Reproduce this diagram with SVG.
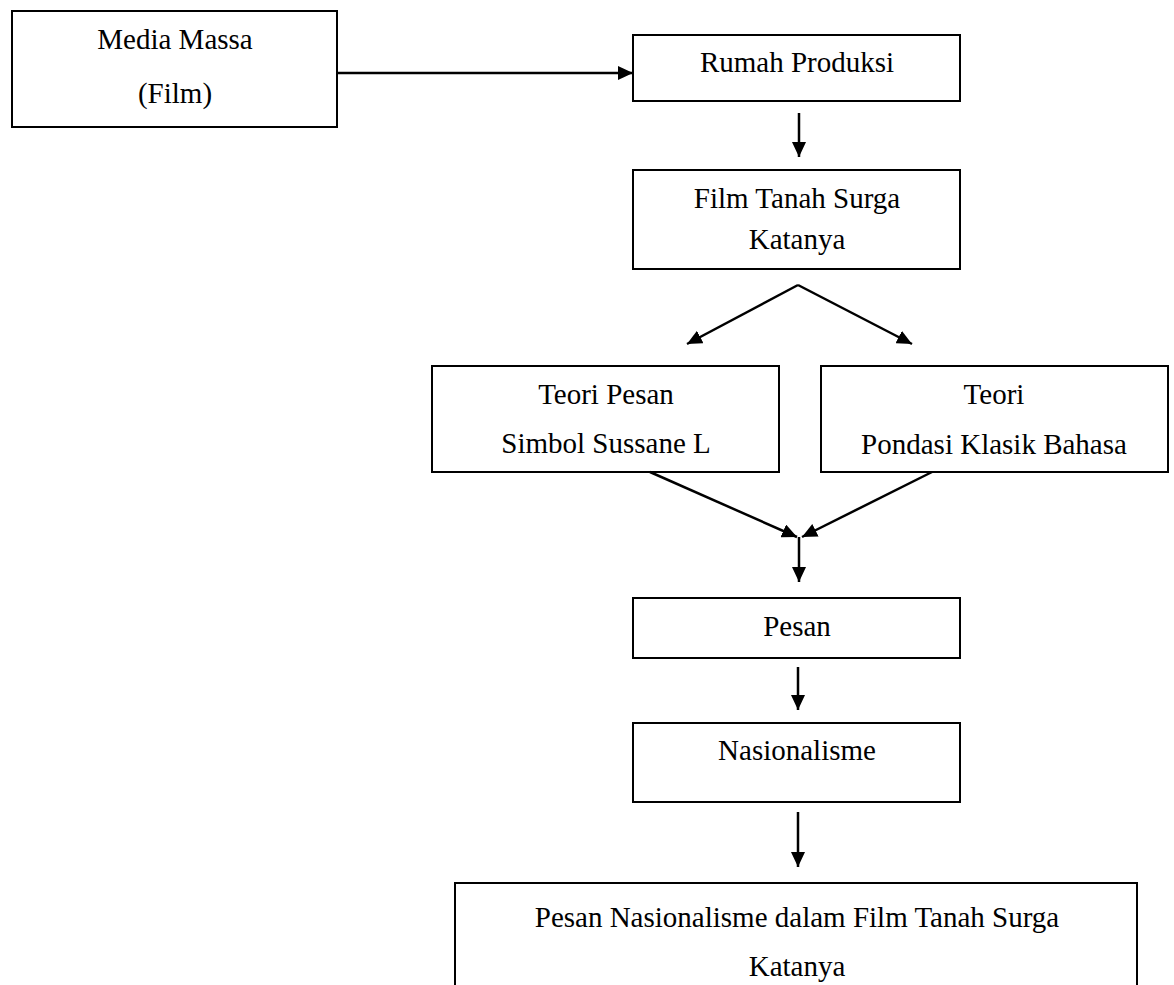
<svg xmlns="http://www.w3.org/2000/svg" width="1174" height="985" viewBox="0 0 1174 985">
<style>
.box{fill:#fff;stroke:#000;stroke-width:2}
.lbl{font-family:"Liberation Serif","Times New Roman",serif;font-size:29px;fill:#000;text-anchor:middle}
.conn line{stroke:#000;stroke-width:2.5;marker-end:url(#ah)}
</style>
<defs>
<marker id="ah" viewBox="0 0 15 14" refX="15" refY="7" markerWidth="15" markerHeight="14" markerUnits="userSpaceOnUse" orient="auto">
<path d="M0,0 L15,7 L0,14 z" fill="#000"/>
</marker>
</defs>
<rect width="1174" height="985" fill="#fff"/>
<g id="media-massa">
<rect class="box" x="12" y="11" width="325" height="116"/>
<text class="lbl" x="175" y="49">Media Massa</text>
<text class="lbl" x="175" y="103">(Film)</text>
</g>
<g id="rumah-produksi">
<rect class="box" x="633" y="35" width="327" height="66"/>
<text class="lbl" x="797" y="72">Rumah Produksi</text>
</g>
<g id="film">
<rect class="box" x="633" y="170" width="327" height="99"/>
<text class="lbl" x="797" y="208">Film Tanah Surga</text>
<text class="lbl" x="797" y="249">Katanya</text>
</g>
<g id="teori-pesan">
<rect class="box" x="432" y="366" width="347" height="106"/>
<text class="lbl" x="606" y="404">Teori Pesan</text>
<text class="lbl" x="606" y="453">Simbol Sussane L</text>
</g>
<g id="teori-pondasi">
<rect class="box" x="821" y="366" width="347" height="106"/>
<text class="lbl" x="994" y="404">Teori</text>
<text class="lbl" x="994" y="454">Pondasi Klasik Bahasa</text>
</g>
<g id="pesan">
<rect class="box" x="633" y="598" width="327" height="60"/>
<text class="lbl" x="797" y="636">Pesan</text>
</g>
<g id="nasionalisme">
<rect class="box" x="633" y="723" width="327" height="79"/>
<text class="lbl" x="797" y="760">Nasionalisme</text>
</g>
<g id="hasil">
<rect class="box" x="455" y="883" width="682" height="120"/>
<text class="lbl" x="797" y="927">Pesan Nasionalisme dalam Film Tanah Surga</text>
<text class="lbl" x="797" y="976">Katanya</text>
</g>
<g id="connectors" class="conn">
<line x1="337" y1="73" x2="633" y2="73"/>
<line x1="799" y1="113" x2="799" y2="157"/>
<line x1="798" y1="285" x2="687" y2="344"/>
<line x1="798" y1="285" x2="912" y2="344"/>
<line x1="650" y1="472" x2="797" y2="537"/>
<line x1="932" y1="472" x2="802" y2="537"/>
<line x1="799" y1="537" x2="799" y2="582"/>
<line x1="798" y1="667" x2="798" y2="710"/>
<line x1="798" y1="812" x2="798" y2="867"/>
</g>
</svg>
